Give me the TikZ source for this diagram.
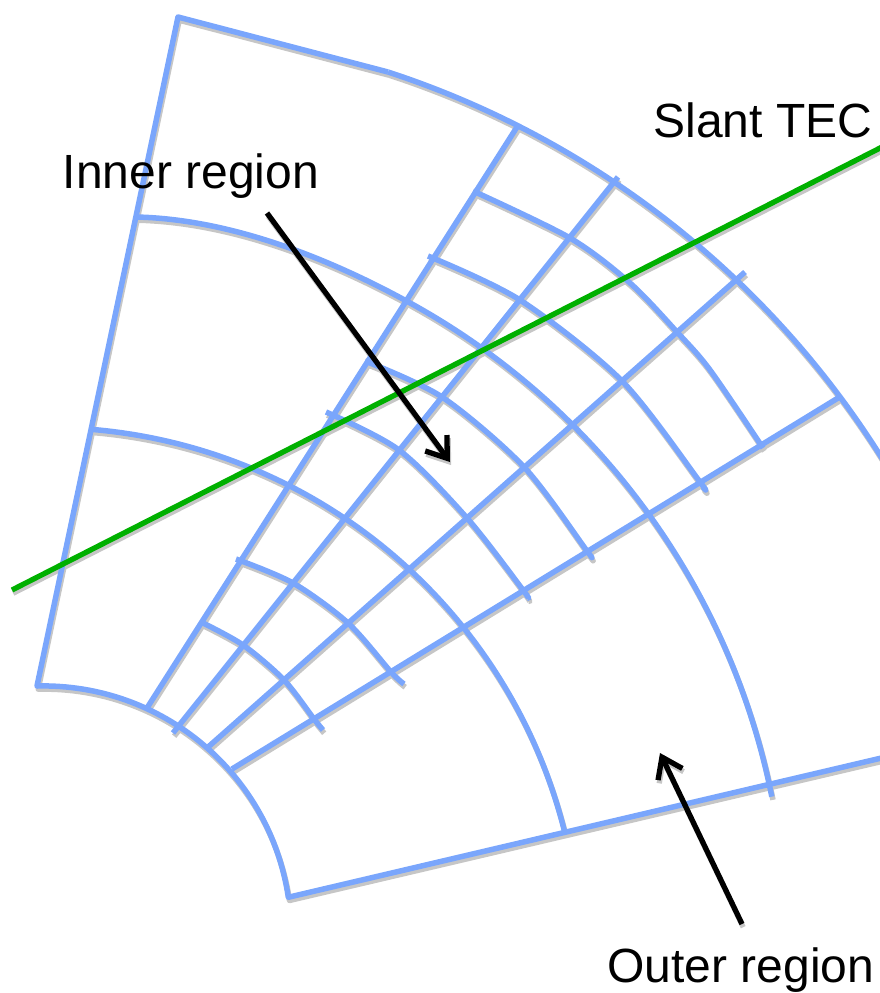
\documentclass[tikz,border=0pt]{standalone}
\usepackage{fontspec}
\setmainfont{Liberation Sans}
\usetikzlibrary{arrows.meta}
\definecolor{gridblue}{RGB}{122,166,252}
\definecolor{tecgreen}{RGB}{0,176,0}
\definecolor{shadowgray}{RGB}{198,198,198}
\tikzset{
  gridline/.style={line width=5.5pt, line join=round},
  tecline/.style={line width=5.3pt},
  pointer/.style={line width=5.3pt, -{Straight Barb[length=19pt,width=27pt]}},
  regionlabel/.style={font=\fontsize{48}{58}\selectfont, inner sep=0pt, anchor=base, text=black},
}
\newcommand{\strokes}[3]{%
  % boundary: top edge, left edge, inner arc, bottom edge
  \draw[gridline,draw=#1] (388,72) -- (178,17) -- (37,686)
     arc[start angle=-91.4, end angle=-8.5, radius=248] -- (890,756);
  % outer arc
  \draw[gridline,draw=#1] (388,72) arc[start angle=-71.9, end angle=-28, radius=920];
  % coarse arcs
  \draw[gridline,draw=#1] (136,217) .. controls (225,219) and (320,254) .. (405.2,300.3)
     arc[start angle=-61.6, end angle=-11.3, radius=726];
  \draw[gridline,draw=#1] (90.7,429.3) arc[start angle=-85.3, end angle=-14.0, radius=533.5];
  % radial lines
  \draw[gridline,draw=#1] (147,708) -- (517,127);
  \draw[gridline,draw=#1] (173,733) -- (618,177);
  \draw[gridline,draw=#1] (207,748) -- (745,272);
  \draw[gridline,draw=#1] (232,769) -- (838,398);
  % fine arcs of the inner region
  \draw[gridline,draw=#1] plot[smooth] coordinates {(201,622) (243,645) (284,680) (314,719) (323,730)};
  \draw[gridline,draw=#1] plot[smooth] coordinates {(236,559) (293,583) (348,623) (391,672) (404,684)};
  \draw[gridline,draw=#1] plot[smooth] coordinates {(326,412) (399,450) (467,518) (523,590) (528,598)};
  \draw[gridline,draw=#1] plot[smooth] coordinates {(365,361) (442,397) (524,467) (587,551) (590,555)};
  \draw[gridline,draw=#1] plot[smooth] coordinates {(428,256) (520,300) (622,381) (700,482) (703,487)};
  \draw[gridline,draw=#1] plot[smooth] coordinates {(473,191) (570,238) (630,283) (677,332) (710,370) (763,448)};
  % slant TEC ray
  \draw[tecline,draw=#2] (tecstart) -- (tecend);
  % pointers
  \draw[pointer,draw=#3] (intail) -- (inhead);
  \draw[pointer,draw=#3] (outtail) -- (outhead);
}
\begin{document}
\begin{tikzpicture}[x=1pt,y=-1pt]
  \useasboundingbox (0,0) rectangle (880,993);
  \clip (0,0) rectangle (880,993);
  \coordinate (intail) at (267,213);
  \coordinate (inhead) at (450,462);
  \coordinate (outtail) at (742,924);
  \coordinate (outhead) at (660,753);
  \coordinate (tecstart) at (12,590);
  \coordinate (tecend) at (886,145);
  \begin{scope}[transform canvas={shift={(1.2pt,-3.2pt)}}]
    \strokes{shadowgray}{shadowgray}{shadowgray}
  \end{scope}
  \strokes{gridblue}{tecgreen}{black}
  \node[regionlabel] (innerlabel) at (191,188) {Inner region};
  \node[regionlabel] (teclabel) at (763,137) {Slant TEC};
  \node[regionlabel] (outerlabel) at (741,982) {Outer region};
\end{tikzpicture}
\end{document}
